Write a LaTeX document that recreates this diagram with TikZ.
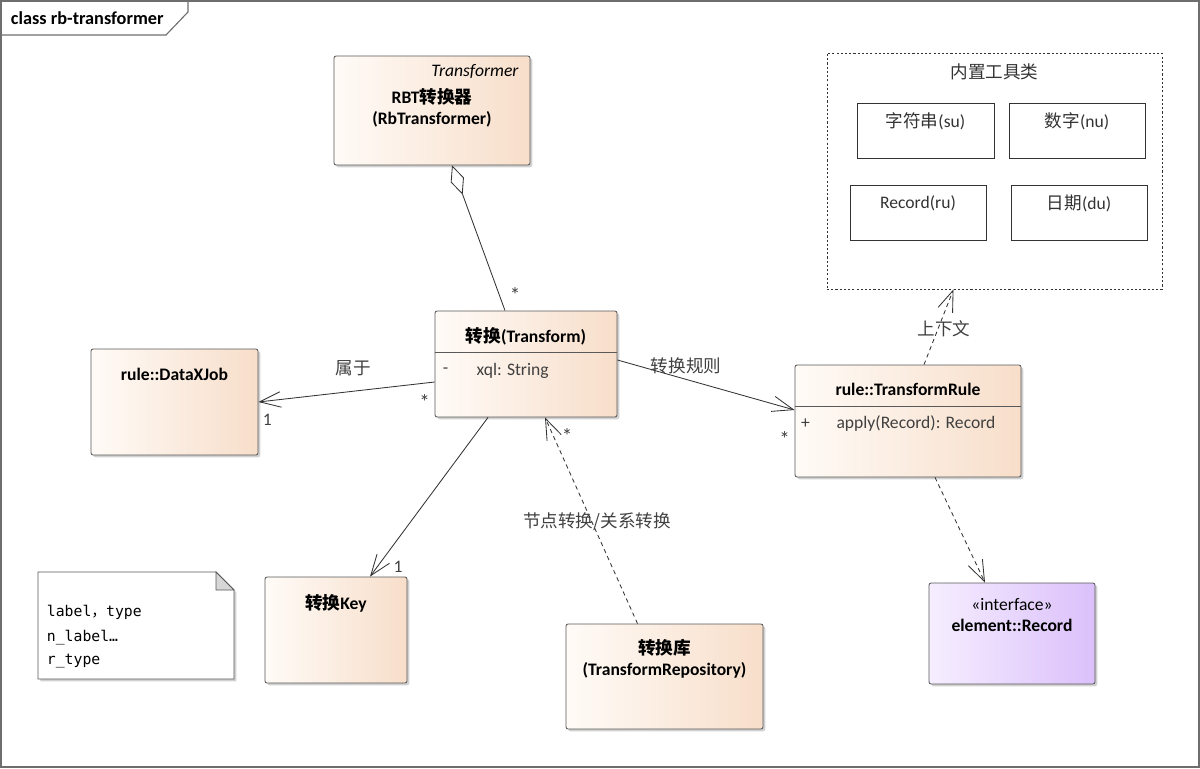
\documentclass[tikz,border=0pt]{standalone}
\usepackage{fontspec}
\setmainfont{Carlito}
\newfontfamily\cjk{Noto Sans CJK SC}
\newfontfamily\notefont{DejaVu Sans Mono}
\usetikzlibrary{arrows.meta, calc, positioning, shadows, fit}
\definecolor{boxleft}{RGB}{255,251,247}
\definecolor{boxright}{RGB}{247,222,202}
\definecolor{ifleft}{RGB}{246,238,255}
\definecolor{ifright}{RGB}{219,192,250}
\definecolor{framegray}{RGB}{110,110,110}
\definecolor{notefold}{RGB}{215,215,215}
\newcommand{\zh}[1]{{\cjk #1}}

\begin{document}
\begin{tikzpicture}[x=0.025cm, y=-0.025cm, every node/.style={font=\fontsize{12.5}{15}\selectfont},
  classbox/.style={draw=black!65, line width=0.6pt, rounded corners=1.5pt, left color=boxleft, right color=boxright,
    drop shadow={shadow xshift=1.6pt, shadow yshift=-1.6pt, fill=black!30, opacity=0.6}, inner sep=0pt},
  ifbox/.style={classbox, left color=ifleft, right color=ifright},
  toolbox/.style={draw=black!80, line width=0.5pt, fill=white, inner sep=0pt},
  title/.style={font=\fontsize{12.5}{15}\selectfont\bfseries, align=center},
  edgelbl/.style={text=black!75},
  manylbl/.style={text=black!75, font=\fontsize{15}{15}\selectfont},
  assoc/.style={draw=black!80, line width=0.6pt, -{Straight Barb[length=15pt, width=11pt]}},
  depend/.style={assoc, dash pattern=on 3pt off 2.5pt},
  aggr/.style={draw=black!80, line width=0.6pt, {Diamond[open, length=22pt, width=10pt]}-}]
  \useasboundingbox (0,0) rectangle (1200,768);
  % frame and diagram name
  \draw[framegray, line width=0.8pt] (1,1) rectangle (1199,767);
  \draw[framegray, line width=0.8pt] (1,35) -- (166,35) -- (188,12) -- (188,1);
  \node[font=\fontsize{13}{15}\selectfont\bfseries, anchor=west] (diagname) at (6,18) {class rb-transformer};

  % classes
  \node[classbox, fit={(334,56) (530,165)}] (rbt) {};
  \node[font=\fontsize{12.5}{15}\selectfont\itshape, anchor=east] (rbtstereo) at ($(rbt.north east)+(-7,16)$) {Transformer};
  \node[title] (rbtname) at ($(rbt.north)+(0,52)$) {RBT\zh{转换器}\\(RbTransformer)};

  \node[classbox, fit={(435,311) (617,417)}] (tr) {};
  \node[title] (trname) at ($(tr.north)+(0,26)$) {\zh{转换}(Transform)};
  \draw[black!65, line width=0.6pt] ($(tr.north west)+(0,42)$) -- ($(tr.north east)+(0,42)$);
  \node[text=black!75] (trvis) at ($(tr.north west)+(11,60)$) {-};
  \node[text=black!75, anchor=west] (trattr) at ($(tr.north west)+(37,60)$) {xql: String};

  \node[classbox, fit={(91,349) (258,455)}] (job) {};
  \node[title] (jobname) at ($(job.north)+(0,26)$) {rule::DataXJob};

  \node[classbox, fit={(795,365) (1021,477)}] (rule) {};
  \node[title] (rulename) at ($(rule.north)+(0,25)$) {rule::TransformRule};
  \draw[black!65, line width=0.6pt] ($(rule.north west)+(0,42)$) -- ($(rule.north east)+(0,42)$);
  \node[text=black!75] (rulevis) at ($(rule.north west)+(11,59)$) {+};
  \node[text=black!75, anchor=west] (ruleop) at ($(rule.north west)+(37,59)$) {apply(Record): Record};

  \node[classbox, fit={(265,577) (407,683)}] (key) {};
  \node[title] (keyname) at ($(key.north)+(0,27)$) {\zh{转换}Key};

  \node[classbox, fit={(566,624) (763,729)}] (repo) {};
  \node[title] (reponame) at ($(repo.north)+(0,35)$) {\zh{转换库}\\(TransformRepository)};

  \node[ifbox, fit={(929,583) (1095,684)}] (rec) {};
  \node[align=center] (recname) at ($(rec.north)+(0,32)$) {«interface»\\\textbf{element::Record}};

  % built-in tools
  \node[draw=black!80, line width=0.5pt, dash pattern=on 1.5pt off 1.5pt, fit={(827,53) (1162,289)}, inner sep=0pt] (tools) {};
  \node[text=black!80] (toolsname) at ($(tools.north)+(0,19)$) {\zh{内置工具类}};
  \node[toolbox, fit={(857,103) (994,158)}] (su) {};
  \node[toolbox, fit={(1009,103) (1145,158)}] (nu) {};
  \node[toolbox, fit={(850,185) (986,240)}] (ru) {};
  \node[toolbox, fit={(1011,185) (1147,240)}] (du) {};
  \node[text=black!80] at ($(su.north)+(0,19)$) {\zh{字符串}(su)};
  \node[text=black!80] at ($(nu.north)+(0,19)$) {\zh{数字}(nu)};
  \node[text=black!80] at ($(ru.north)+(0,19)$) {Record(ru)};
  \node[text=black!80] at ($(du.north)+(0,19)$) {\zh{日期}(du)};

  % note
  \draw[draw=black!65, line width=0.6pt, fill=white, drop shadow={shadow xshift=1.6pt, shadow yshift=-1.6pt, fill=black!30, opacity=0.6}]
    (38,572) -- (216,572) -- (234,590) -- (234,679) -- (38,679) -- cycle;
  \draw[draw=black!65, line width=0.6pt, fill=notefold] (216,572) -- (216,590) -- (234,590) -- cycle;
  \node[anchor=west, font=\notefont\fontsize{10.5}{13}\selectfont] (note1) at (42,612) {label\zh{，}type};
  \node[anchor=west, font=\notefont\fontsize{10.5}{13}\selectfont] (note2) at (42,638) {n\_label…};
  \node[anchor=west, font=\notefont\fontsize{10.5}{13}\selectfont] (note3) at (42,661) {r\_type};

  % connectors
  \draw[aggr] ($(rbt.south)+(20,0)$) -- ($(tr.north)+(-21,0)$);
  \node[manylbl] at ($(tr.north)+(-11,-16)$) {*};

  \draw[assoc] ($(tr.west)+(0,18)$) -- (job.east);
  \node[edgelbl] at (353,368) {\zh{属于}};
  \node[manylbl] at ($(tr.west)+(-10,38)$) {*};
  \node[edgelbl] at ($(job.east)+(9,18)$) {1};

  \draw[assoc] ($(tr.east)+(0,-4)$) -- ($(rule.west)+(0,-11)$);
  \node[edgelbl] at (686,366) {\zh{转换规则}};
  \node[manylbl] at ($(rule.west)+(-10,18)$) {*};

  \draw[assoc] ($(tr.south)+(-38,0)$) -- ($(key.north)+(34,0)$);
  \node[edgelbl] at ($(key.north)+(62,-10)$) {1};

  \draw[depend] ($(repo.north)+(-27,0)$) -- ($(tr.south)+(19,0)$);
  \node[edgelbl] at (597,522) {\zh{节点转换/关系转换}};
  \node[manylbl] at ($(tr.south)+(41,19)$) {*};

  \draw[depend] ($(rule.north)+(16,0)$) -- ($(tools.south)+(-41,0)$);
  \node[edgelbl] at (944,329) {\zh{上下文}};

  \draw[depend] ($(rule.south)+(27,0)$) -- ($(rec.north)+(-27,0)$);
\end{tikzpicture}
\end{document}
